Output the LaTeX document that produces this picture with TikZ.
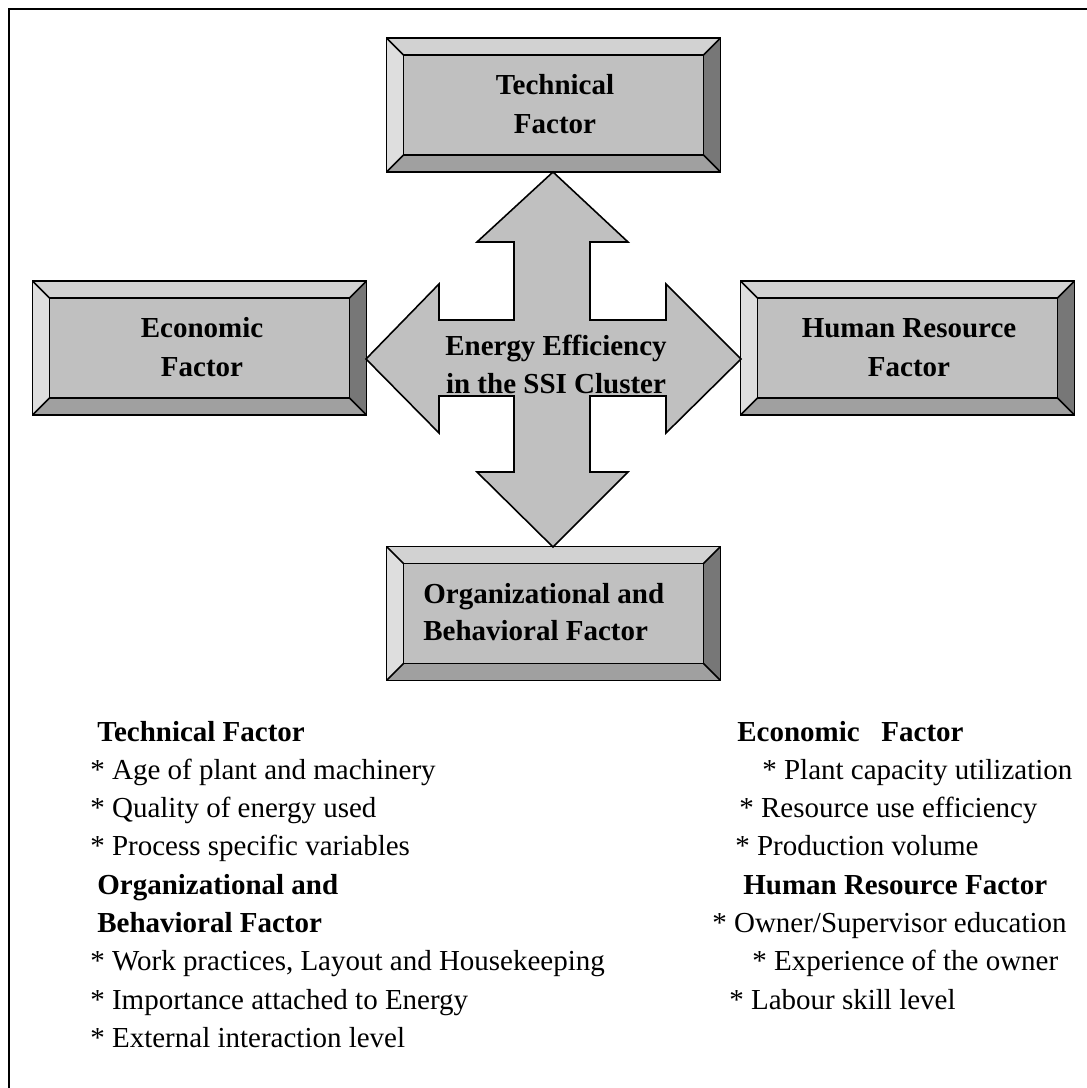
\documentclass[tikz,border=0pt]{standalone}
\usepackage{fontspec}
\setmainfont{Liberation Serif}
\definecolor{face}{HTML}{C0C0C0}
\definecolor{bvtop}{HTML}{D2D2D2}
\definecolor{bvleft}{HTML}{DEDEDE}
\definecolor{bvright}{HTML}{777777}
\definecolor{bvbottom}{HTML}{A0A0A0}
\newcommand\bevelize[1]{%
  \fill[bvtop] (#1.north west) -- (#1.north east) -- ([shift={(-17,17)}]#1.north east) -- ([shift={(17,17)}]#1.north west) -- cycle;
  \fill[bvleft] (#1.north west) -- ([shift={(17,17)}]#1.north west) -- ([shift={(17,-17)}]#1.south west) -- (#1.south west) -- cycle;
  \fill[bvright] (#1.north east) -- (#1.south east) -- ([shift={(-17,-17)}]#1.south east) -- ([shift={(-17,17)}]#1.north east) -- cycle;
  \fill[bvbottom] (#1.south west) -- (#1.south east) -- ([shift={(-17,-17)}]#1.south east) -- ([shift={(17,-17)}]#1.south west) -- cycle;
  \draw[edge,fill=face] ([shift={(17,17)}]#1.north west) rectangle ([shift={(-17,-17)}]#1.south east);
  \draw[edge] (#1.north west) rectangle (#1.south east);
  \draw[edge] (#1.north west) -- ([shift={(17,17)}]#1.north west)
              (#1.north east) -- ([shift={(-17,17)}]#1.north east)
              (#1.south west) -- ([shift={(17,-17)}]#1.south west)
              (#1.south east) -- ([shift={(-17,-17)}]#1.south east);
}
\begin{document}
\begin{tikzpicture}[x=0.02cm,y=-0.02cm,
  edge/.style={draw=black,line width=0.9pt},
  bevelbox/.style={rectangle,draw=none,inner sep=0pt,minimum width=6.66cm,minimum height=2.66cm},
  boxtxt/.style={inner sep=0pt,anchor=base,font=\fontsize{16.5}{20}\selectfont\bfseries},
  listtxt/.style={inner sep=0pt,anchor=base west,font=\fontsize{16.5}{20}\selectfont},
  listhead/.style={listtxt,font=\fontsize{16.5}{20}\selectfont\bfseries}]
\useasboundingbox (0,0) rectangle (1087,1088);
\clip (0,0) rectangle (1087,1088);
\draw[line width=1pt] (9,9) rectangle (1110,1110);

% boxes
\node[bevelbox] (tech) at (553.5,105) {};
\node[bevelbox] (econ) at (199.5,348) {};
\node[bevelbox] (human) at (907.5,348) {};
\node[bevelbox] (org) at (553.5,613.5) {};
\bevelize{tech}
\bevelize{econ}
\bevelize{human}
\bevelize{org}

% four-way arrow
\draw[edge,fill=face,line join=miter]
  (553,172) -- (628,242) -- (590,242) -- (590,320) -- (666,320) -- (666,284)
  -- (741,359) -- (666,433) -- (666,396) -- (590,396) -- (590,472) -- (628,472)
  -- (553,547) -- (477,472) -- (514,472) -- (514,396) -- (439,396) -- (439,433)
  -- (366,359) -- (439,284) -- (439,320) -- (514,320) -- (514,242) -- (477,242) -- cycle;

% box labels
\node[boxtxt] (techA) at (555,94) {Technical};
\node[boxtxt] (techB) at (555,133) {Factor};
\node[boxtxt] (econA) at (202,337) {Economic};
\node[boxtxt] (econB) at (202,376) {Factor};
\node[boxtxt] (humA) at (909,337) {Human Resource};
\node[boxtxt] (humB) at (909,376) {Factor};
\node[boxtxt,anchor=base west] (orgA) at (423,603) {Organizational and};
\node[boxtxt,anchor=base west] (orgB) at (423,640) {Behavioral Factor};
\node[boxtxt] (cenA) at (556,355) {Energy Efficiency};
\node[boxtxt] (cenB) at (556,393) {in the SSI Cluster};

% left list
\node[listhead] (l1) at (97,741) {Technical Factor};
\node[listtxt] (l2) at (90,779) {* Age of plant and machinery};
\node[listtxt] (l3) at (90,817) {* Quality of energy used};
\node[listtxt] (l4) at (90,855.5) {* Process specific variables};
\node[listhead] (l5) at (97,894) {Organizational and};
\node[listhead] (l6) at (97,932) {Behavioral Factor};
\node[listtxt] (l7) at (90,970.5) {* Work practices, Layout and Housekeeping};
\node[listtxt] (l8) at (90,1009) {* Importance attached to Energy};
\node[listtxt] (l9) at (90,1047) {* External interaction level};

% right list
\node[listhead] (r1) at (737,741) {Economic\ \ \ Factor};
\node[listtxt] (r2) at (762,779) {* Plant capacity utilization};
\node[listtxt] (r3) at (739,817) {* Resource use efficiency};
\node[listtxt] (r4) at (735,855.5) {* Production volume};
\node[listhead] (r5) at (743,894) {Human Resource Factor};
\node[listtxt] (r6) at (712,932) {* Owner/Supervisor education};
\node[listtxt] (r7) at (752,970.5) {* Experience of the owner};
\node[listtxt] (r8) at (729,1009) {* Labour skill level};
\end{tikzpicture}
\end{document}
